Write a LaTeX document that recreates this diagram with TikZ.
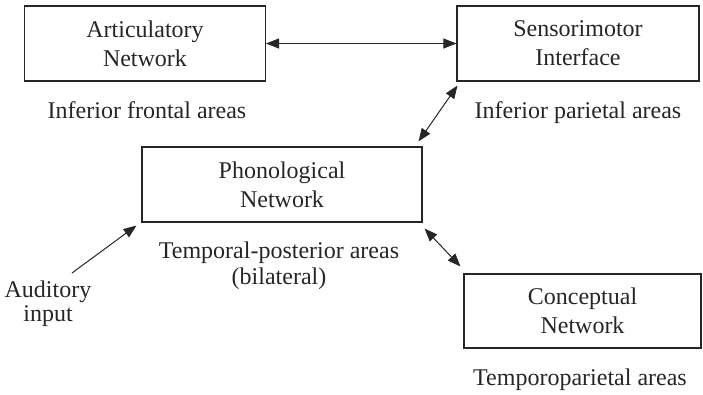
\documentclass[tikz,border=0pt]{standalone}
\usepackage{fontspec}
\setmainfont{Liberation Serif}
\usetikzlibrary{arrows.meta}
\tikzset{
  box/.style={draw=black!85, line width=1.1pt, align=center, inner sep=0pt,
    font=\fontsize{24}{29}\selectfont, text=black!85},
  lbl/.style={font=\fontsize{24}{29}\selectfont, text=black!85, inner sep=0pt, anchor=base},
  conn/.style={line width=1pt, black!85, arrows={Triangle[length=13pt,width=10pt]-Triangle[length=13pt,width=10pt]}},
  oneway/.style={line width=1pt, black!85, -{Triangle[length=13pt,width=10pt]}}
}
\begin{document}
\begin{tikzpicture}[x=1pt,y=-1pt]
\useasboundingbox (0,0) rectangle (703,394);
\node[box, minimum width=241pt, minimum height=75pt] (art) at (145,43.5) {Articulatory\\Network};
\node[box, minimum width=242pt, minimum height=75pt] (sen) at (578,43.5) {Sensorimotor\\Interface};
\node[box, minimum width=280pt, minimum height=75pt] (pho) at (282,184.5) {Phonological\\Network};
\node[box, minimum width=237pt, minimum height=74pt] (con) at (582.5,311) {Conceptual\\Network};
\node[lbl] (l1) at (147,118) {Inferior frontal areas};
\node[lbl] (l2) at (578,118) {Inferior parietal areas};
\node[lbl] (l3) at (279,258) {Temporal-posterior areas};
\node[lbl] (l4) at (279,284) {(bilateral)};
\node[lbl] (l5) at (48,297) {Auditory};
\node[lbl] (l6) at (48,321) {input};
\node[lbl] (l7) at (580,385) {Temporoparietal areas};
\coordinate (aud) at (72,273);
\draw[conn] (art.east) -- (sen.west);
\draw[conn] ([shift={(-4,-5)}]pho.north east) -- ([shift={(1,4)}]sen.south west);
\draw[conn] ([shift={(2,6)}]pho.south east) -- ([shift={(-3,-7)}]con.north west);
\draw[oneway] (aud) -- ([shift={(-5,3)}]pho.south west);
\end{tikzpicture}
\end{document}
